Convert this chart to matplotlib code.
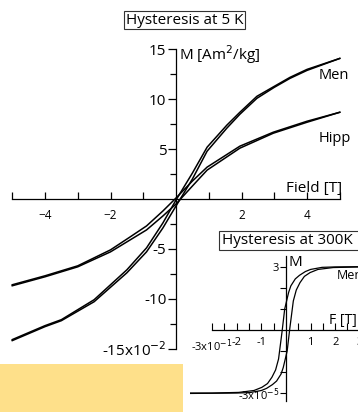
"""
Hysteresis loops at 5 K (main) and 300 K (inset), redrawn from a scanned figure.
"""
import matplotlib
matplotlib.use('Agg')
import matplotlib.pyplot as plt
from matplotlib.patches import Rectangle
from matplotlib.ticker import FixedLocator, FixedFormatter

plt.rcParams['font.family'] = ['Open Sans', 'DejaVu Sans']

# 5 K loops (field in T, M in 1e-2 Am^2/kg)
men_x = [-5, -4, -3.5, -2.5, -1.5, -0.9, -0.4, 0, 0.5, 0.95, 1.55, 1.95, 2.47, 3.0, 3.48, 4.0, 5]
men_lo = [-14.2, -12.8, -12.2, -10.3, -7.4, -5.3, -2.9, -0.7, 2.0, 4.8, 7.1, 8.5, 10.1, 11.2, 12.1, 12.9, 14.1]
men_hi = [-14.1, -12.7, -12.1, -10.1, -7.1, -4.9, -2.4, -0.1, 2.6, 5.2, 7.4, 8.7, 10.3, 11.3, 12.2, 13.0, 14.1]

hipp_x = [-5, -4, -3, -2, -1.4, -0.9, -0.4, 0, 0.5, 0.95, 1.95, 2.97, 4.0, 5]
hipp_lo = [-8.7, -7.8, -6.8, -5.3, -4.1, -3.1, -1.7, -0.5, 1.3, 2.9, 5.1, 6.6, 7.7, 8.7]
hipp_hi = [-8.6, -7.7, -6.7, -5.1, -3.8, -2.7, -1.2, 0.1, 1.8, 3.2, 5.3, 6.7, 7.8, 8.7]

# 300 K loop (field in 1e-1 T, M in 1e-5)
rt_x_b = [-3.9, -2.0, -1.47, -1.0, -0.79, -0.55, -0.38, -0.2, -0.11, 0.05, 0.16, 0.3,
          0.42, 0.57, 0.75, 0.98, 1.3, 1.92, 3.0, 5.5]
rt_m_b = [-3.02, -3.0, -2.98, -2.88, -2.78, -2.6, -2.43, -2.1, -1.79, -1.0, 0.1, 1.38,
          1.9, 2.25, 2.55, 2.73, 2.88, 2.97, 3.0, 3.0]
rt_x_a = [-v for v in rt_x_b[::-1]]
rt_m_a = [-v for v in rt_m_b[::-1]]

W, H = 358, 413
fig = plt.figure(figsize=(W / 100, H / 100), dpi=100)
fig.patch.set_facecolor('white')

def px(x0, y0, x1, y1):
    # pixel box (top-left origin) -> figure fraction
    return [x0 / W, 1 - y1 / H, (x1 - x0) / W, (y1 - y0) / H]

def center_axes(ax, xb, yb):
    for s in ['top', 'right']:
        ax.spines[s].set_visible(False)
    ax.spines['left'].set_position(('data', 0))
    ax.spines['bottom'].set_position(('data', 0))
    ax.spines['left'].set_bounds(*yb)
    ax.spines['bottom'].set_bounds(*xb)
    for s in ['left', 'bottom']:
        ax.spines[s].set_linewidth(0.9)
    ax.patch.set_alpha(0)

# ---- main panel
ax = fig.add_axes([0, 0, 1, 1])
ax.set_xlim(-5.374, 5.557)
ax.set_ylim(-21.46, 19.96)
center_axes(ax, (-5, 5), (-15, 15))

ax.plot(men_x, men_lo, color='black', lw=1.1)
ax.plot(men_x, men_hi, color='black', lw=1.1)
ax.plot(hipp_x, hipp_lo, color='black', lw=1.1)
ax.plot(hipp_x, hipp_hi, color='black', lw=1.1)

ax.xaxis.set_major_locator(FixedLocator([-4, -2, 2, 4]))
ax.xaxis.set_minor_locator(FixedLocator([-5, -3, -1, 1, 3, 5]))
ax.yaxis.set_major_locator(FixedLocator([-15, -10, -5, 5, 10, 15]))
ax.yaxis.set_major_formatter(FixedFormatter(['-15x10$^{-2}$', '-10', '-5', '5', '10', '15']))
ax.yaxis.set_minor_locator(FixedLocator([-12.5, -7.5, -2.5, 2.5, 7.5, 12.5]))
ax.tick_params(axis='x', which='both', direction='in', length=5, width=0.9,
               labelsize=8.5, pad=7)
ax.tick_params(axis='y', which='major', direction='out', length=6, width=0.9,
               labelsize=11, pad=1)
ax.tick_params(axis='y', which='minor', direction='out', length=4, width=0.9)

ax.text(0.08, 14.5, 'M [Am$^2$/kg]', fontsize=11, va='center', ha='left')
ax.text(5.07, 1.1, 'Field [T]', fontsize=11, va='center', ha='right')
ax.text(5.28, 12.4, 'Men', fontsize=10.5, va='center', ha='right')
ax.text(5.33, 6.1, 'Hipp', fontsize=10.5, va='center', ha='right')

fig.text(184.5 / W, 1 - 20 / H, 'Hysteresis at 5 K', fontsize=11, ha='center', va='center',
         bbox=dict(boxstyle='square,pad=0.1', fc='white', ec='#333333', lw=0.8))

# ---- inset, 300 K
ins = fig.add_axes(px(190, 252, 420, 413))
ins.set_xlim(-3.90, 5.45)
ins.set_ylim(-3.95, 3.71)
center_axes(ins, (-3, 5.45), (-3.4, 3.5))

ins.plot(rt_x_b, rt_m_b, color='black', lw=0.9)
ins.plot(rt_x_a, rt_m_a, color='black', lw=0.9)

ins.xaxis.set_major_locator(FixedLocator([-3, -2, -1, 1, 2, 3]))
ins.xaxis.set_major_formatter(FixedFormatter(['-3x10$^{-1}$', '-2', '-1', '1', '2', '3']))
ins.xaxis.set_minor_locator(FixedLocator([-2.5, -1.5, -0.5, 0.5, 1.5, 2.5, 3.5]))
ins.yaxis.set_major_locator(FixedLocator([-3, 3]))
ins.yaxis.set_major_formatter(FixedFormatter(['-3x10$^{-5}$', '3']))
ins.yaxis.set_minor_locator(FixedLocator([-2, -1, 1, 2]))
ins.tick_params(axis='x', which='both', direction='in', length=5, width=0.8,
                labelsize=8, pad=5)
ins.tick_params(axis='y', which='both', direction='out', length=4, width=0.8,
                labelsize=8, pad=1)

ins.text(0.1, 3.2, 'M', fontsize=11, va='center', ha='left')
ins.text(2.89, 0.45, 'F [T]', fontsize=10, va='center', ha='right')
ins.text(2.08, 2.6, 'Men', fontsize=9, va='center', ha='left')

fig.patches.append(Rectangle((219 / W, 1 - 250 / H), 150 / W, 19 / H,
                             transform=fig.transFigure, fc='white', ec='#333333',
                             lw=0.8, zorder=5))
fig.text(222 / W, 1 - 240.5 / H, 'Hysteresis at 300K', fontsize=11, ha='left',
         va='center', zorder=6)

# yellow band bottom-left
fig.patches.append(Rectangle((0, 1 - 412 / H), 183 / W, 48 / H,
                             transform=fig.transFigure, fc='#fee08a', ec='none',
                             zorder=5))

fig.savefig('out.png', dpi=100)
